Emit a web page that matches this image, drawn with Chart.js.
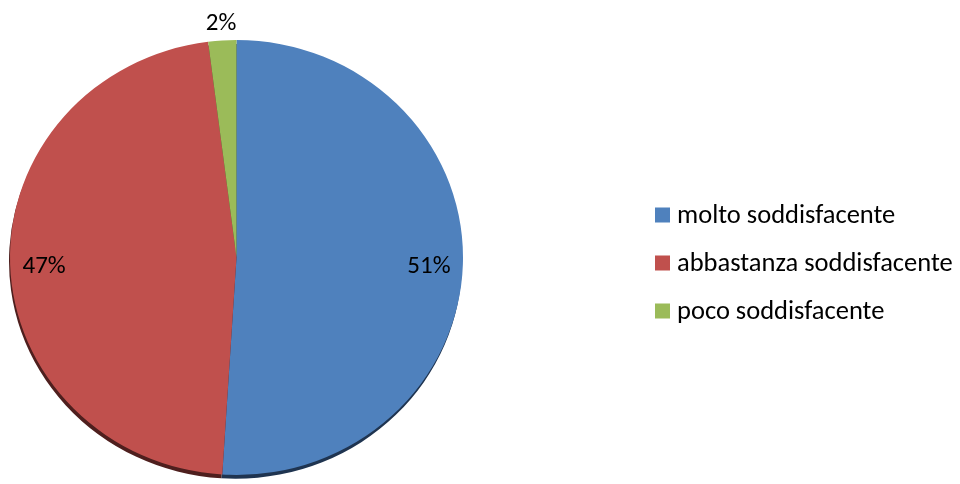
<!DOCTYPE html>
<html>
<head>
<meta charset="utf-8">
<script src="https://cdn.jsdelivr.net/npm/chart.js@4"></script>
<style>
html,body{margin:0;padding:0;background:#fff;}
#wrap{width:960px;height:484px;position:relative;}
</style>
</head>
<body>
<div id="wrap"><canvas id="c" width="960" height="484"></canvas></div>
<script>
const categories = ['molto soddisfacente', 'abbastanza soddisfacente', 'poco soddisfacente'];
const values = [51, 47, 2];
const colors = ['#4F81BD', '#C0504D', '#9BBB59'];
const shadowColors = ['#1F3450', '#4E1F1E', '#3E4B24'];

const FONT = 'Carlito, Lato, "Open Sans", sans-serif';
const Y_SCALE = 0.96;

function centerOf(chart) {
  const m = chart.getDatasetMeta(0);
  const a = m.data[0];
  return {x: a.x, y: a.y, r: a.outerRadius};
}

const ellipsePlugin = {
  id: 'ellipse',
  beforeDatasetsDraw(chart) {
    const ctx = chart.ctx;
    const c = centerOf(chart);
    ctx.save();
    ctx.translate(c.x, c.y);
    ctx.scale(1, Y_SCALE);
    ctx.translate(-c.x, -c.y);
    const meta = chart.getDatasetMeta(0);
    meta.data.forEach((arc, i) => {
      ctx.save();
      ctx.beginPath();
      ctx.moveTo(arc.x - 1, arc.y + 4);
      ctx.arc(arc.x - 1, arc.y + 4, arc.outerRadius, arc.startAngle, arc.endAngle);
      ctx.closePath();
      ctx.fillStyle = shadowColors[i];
      ctx.fill();
      ctx.restore();
    });
  },
  afterDatasetsDraw(chart) {
    const ctx = chart.ctx;
    ctx.restore();
    const meta = chart.getDatasetMeta(0);
    ctx.save();
    ctx.fillStyle = '#000';
    ctx.font = '25px ' + FONT;
    ctx.textAlign = 'center';
    ctx.textBaseline = 'middle';
    meta.data.forEach((arc, i) => {
      const mid = (arc.startAngle + arc.endAngle) / 2;
      const f = values[i] < 5 ? 1.09 : 0.85;
      const x = arc.x + Math.cos(mid) * arc.outerRadius * f;
      const y = arc.y + Math.sin(mid) * arc.outerRadius * f * Y_SCALE;
      ctx.fillText(values[i] + '%', x, y + 3);
    });
    ctx.restore();
  },
  afterDraw(chart) {
    const ctx = chart.ctx;
    ctx.save();
    ctx.font = '26.5px ' + FONT;
    ctx.textBaseline = 'middle';
    ctx.textAlign = 'left';
    const boxX = 655, box = 15, textX = 677, y0 = 215, step = 48;
    chart.data.labels.forEach((lab, i) => {
      const y = y0 + i * step;
      ctx.fillStyle = chart.data.datasets[0].backgroundColor[i];
      ctx.fillRect(boxX, y - box / 2, box, box);
      ctx.fillStyle = '#000';
      ctx.fillText(lab, textX, y + 1);
    });
    ctx.restore();
  }
};

new Chart(document.getElementById('c'), {
  type: 'pie',
  data: {
    labels: categories,
    datasets: [{
      data: values,
      backgroundColor: colors,
      borderWidth: 0,
      hoverOffset: 0
    }]
  },
  options: {
    responsive: false,
    animation: false,
    devicePixelRatio: 1,
    layout: {padding: {left: 10, right: 497, top: 31, bottom: 0}},
    plugins: {
      legend: {display: false},
      tooltip: {enabled: false}
    }
  },
  plugins: [ellipsePlugin]
});
</script>
</body>
</html>
